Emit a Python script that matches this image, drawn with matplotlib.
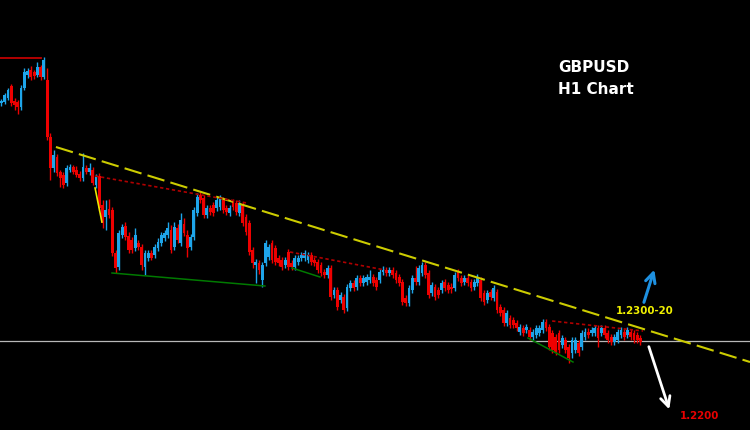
import matplotlib
matplotlib.use('Agg')
import matplotlib.pyplot as plt
import numpy as np

# GBPUSD H1 candles, pips above 1.2200 (price = 1.2200 + pips / 10000)
open_pips = [
    297, 298, 302, 314, 299, 298, 293, 312, 325, 330,
    328, 325, 333, 323, 320, 263, 232, 243, 228, 225,
    217, 230, 233, 230, 226, 222, 232, 228, 230, 215,
    224, 195, 183, 191, 190, 147, 133, 165, 174, 164,
    160, 152, 157, 153, 133, 142, 147, 145, 152, 157,
    162, 165, 170, 153, 172, 157, 176, 165, 153, 163,
    187, 205, 202, 185, 192, 195, 192, 193,
    200, 192, 187, 198, 197, 187, 195, 183, 177,
    150, 135, 137, 120, 137, 143, 157, 152, 142, 140,
    135, 148, 137, 133, 138, 142, 142, 140, 145, 140,
    138, 135, 128, 125, 132, 105, 110, 100, 103, 92,
    112, 117, 113, 122, 117, 118, 120, 123, 120, 120,
    128, 130, 127, 130, 127, 123, 118, 102, 97, 110,
    122, 118, 127, 135, 127, 107, 113, 110, 110, 118,
    115, 113, 112, 128, 122, 118, 122, 118, 113, 117,
    120, 107, 100, 108, 102, 108, 93, 90,
    77, 82, 80, 77, 68, 72, 70, 70,
    63, 65, 67, 70, 78, 73, 67, 63,
    67, 55, 60, 53, 47, 50, 57, 53, 63,
    68, 67, 67, 72, 67, 72, 67,
    63, 58, 60, 65, 68, 65, 68, 67, 65, 62,
]
close_pips = [
    299, 305, 310, 297, 295, 293, 312, 328, 329, 323,
    324, 333, 323, 340, 263, 232, 245, 227, 222, 215,
    232, 233, 228, 225, 222, 233, 228, 232, 217, 223,
    192, 177, 190, 185, 147, 132, 167, 173, 163, 150,
    150, 165, 153, 135, 147, 147, 142, 153, 158, 165,
    167, 172, 150, 173, 160, 180, 167, 152, 163, 190,
    203, 200, 185, 192, 188, 187, 200, 202,
    190, 188, 192, 193, 188, 197, 177, 168, 148,
    137, 138, 130, 135, 157, 153, 140, 138, 137, 133,
    140, 133, 133, 142, 142, 145, 147, 145, 138, 137,
    130, 127, 125, 132, 103, 110, 93, 105, 90, 113,
    117, 112, 122, 117, 122, 123, 123, 117, 113, 128,
    130, 127, 130, 125, 120, 117, 98, 97, 112, 122,
    118, 132, 135, 125, 105, 115, 103, 105, 117, 112,
    110, 111, 125, 122, 117, 122, 117, 112, 118, 123,
    102, 98, 107, 103, 112, 90, 87, 77,
    87, 75, 75, 72, 73, 67, 73, 63,
    68, 72, 72, 78, 72, 53, 50, 48,
    50, 62, 50, 42, 60, 60, 47, 67, 68,
    65, 70, 72, 62, 72, 65, 60,
    58, 63, 68, 70, 63, 70, 63, 60, 60, 58,
]
high_pips = [
    301, 307, 312, 316, 302, 300, 315, 332, 332, 334,
    330, 338, 335, 343, 332, 267, 250, 246, 230, 228,
    235, 236, 235, 234, 229, 247, 235, 237, 233, 226,
    227, 200, 200, 201, 193, 150, 170, 176, 178, 168,
    163, 172, 160, 156, 150, 150, 150, 156, 162, 168,
    170, 178, 175, 178, 176, 187, 182, 170, 166, 193,
    207, 208, 205, 195, 195, 198, 203, 205,
    203, 195, 195, 201, 200, 200, 198, 186, 180,
    153, 141, 140, 138, 160, 156, 160, 155, 145, 143,
    143, 151, 140, 145, 145, 148, 150, 148, 148, 143,
    141, 138, 131, 135, 135, 113, 113, 108, 106, 116,
    120, 120, 125, 125, 125, 126, 130, 126, 123, 131,
    134, 133, 133, 133, 130, 126, 121, 105, 115, 125,
    134, 135, 138, 138, 130, 118, 116, 113, 120, 121,
    118, 117, 128, 131, 125, 125, 125, 121, 121, 126,
    123, 110, 110, 111, 115, 111, 96, 93,
    90, 85, 83, 80, 76, 75, 76, 73,
    71, 75, 75, 81, 81, 76, 70, 66,
    70, 65, 63, 56, 63, 63, 60, 70, 72,
    72, 73, 75, 75, 75, 75, 70,
    66, 66, 71, 73, 71, 73, 71, 70, 68, 65,
]
low_pips = [
    294, 296, 300, 294, 290, 286, 290, 310, 322, 320,
    321, 323, 320, 321, 260, 220, 228, 224, 213, 212,
    214, 228, 226, 223, 219, 219, 226, 225, 215, 212,
    189, 172, 170, 182, 144, 127, 130, 162, 160, 147,
    147, 149, 150, 130, 125, 139, 140, 142, 149, 154,
    159, 162, 147, 150, 157, 154, 164, 143, 150, 160,
    184, 197, 182, 182, 185, 184, 189, 190,
    187, 185, 184, 190, 185, 184, 174, 165, 145,
    132, 117, 126, 113, 134, 140, 137, 135, 134, 130,
    132, 130, 130, 130, 135, 139, 139, 137, 135, 134,
    127, 124, 122, 122, 100, 102, 90, 97, 87, 89,
    109, 109, 110, 114, 114, 115, 117, 114, 110, 117,
    125, 124, 124, 122, 117, 114, 95, 94, 94, 107,
    115, 115, 124, 122, 102, 104, 100, 102, 107, 109,
    107, 107, 109, 119, 114, 115, 114, 109, 110, 114,
    99, 95, 97, 100, 99, 87, 84, 74,
    74, 72, 72, 69, 65, 64, 67, 60,
    60, 62, 64, 67, 69, 50, 47, 45,
    47, 52, 47, 37, 42, 47, 44, 50, 60,
    62, 64, 64, 53, 64, 62, 57,
    55, 55, 57, 62, 60, 62, 60, 57, 57, 55,
]

BASE, PIP = 1.2200, 0.0001

# drawn objects: (bar index, pips) anchors
top_level = ([-1, 12], [342, 342])
trend_yellow = ([16.7, 229.6], [253, 38])
red_dotted = [([28.7, 75.3], [224, 197]),
              ([88.5, 117.6], [148, 130]),
              ([168.9, 196.8], [79, 69])]
green_lines = [([33.9, 80.8], [127, 114]),
               ([89.1, 97.7], [132, 123]),
               ([161.5, 175.3], [62, 38])]
yellow_leg = ([28.7, 30.8], [212, 178])
hline_pips = 59
arrow_up = ((196.8, 95), (200.5, 133))
arrow_down = ((198.3, 56), (205.1, -12))
label_up = (188.5, 89, '1.2300-20')
label_down = (208.1, -16, '1.2200')

BULL = '#1ea5ea'
BEAR = '#ee0000'

o = BASE + np.array(open_pips) * PIP
c = BASE + np.array(close_pips) * PIP
h = BASE + np.array(high_pips) * PIP
l = BASE + np.array(low_pips) * PIP
x = np.arange(len(o))
colors = np.where(c >= o, BULL, BEAR)


def p(vals):
    return BASE + np.asarray(vals) * PIP


fig = plt.figure(figsize=(7.5, 4.3), dpi=100, facecolor='black')
ax = fig.add_axes([0, 0, 1, 1])
ax.set_facecolor('black')

ax.vlines(x, l, h, colors=colors, linewidth=1.0, zorder=3)
ax.bar(x, np.maximum(np.abs(c - o), 0.8 * PIP), bottom=np.minimum(o, c),
       width=0.86, color=colors, linewidth=0, zorder=4)

ax.axhline(p(hline_pips), color='#b8b8b8', linewidth=0.9, zorder=2)
ax.plot(top_level[0], p(top_level[1]), color='#c00000', linewidth=1.3, zorder=5)
ax.plot(trend_yellow[0], p(trend_yellow[1]), color='#cccc00', linewidth=1.5,
        dashes=(8.5, 3), zorder=5)
for xs, ys in red_dotted:
    ax.plot(xs, p(ys), color='#b00000', linewidth=1.2, dashes=(2, 1.6), zorder=5)
for xs, ys in green_lines:
    ax.plot(xs, p(ys), color='#007a00', linewidth=1.1, zorder=5)
ax.plot(yellow_leg[0], p(yellow_leg[1]), color='#e8e800', linewidth=1.2, zorder=6)

ax.annotate('', xy=(arrow_up[1][0], p(arrow_up[1][1])),
            xytext=(arrow_up[0][0], p(arrow_up[0][1])),
            arrowprops=dict(arrowstyle='->,head_length=0.7,head_width=0.35',
                            color='#1e90e0', linewidth=2.2), zorder=7)
ax.annotate('', xy=(arrow_down[1][0], p(arrow_down[1][1])),
            xytext=(arrow_down[0][0], p(arrow_down[0][1])),
            arrowprops=dict(arrowstyle='->,head_length=0.7,head_width=0.35',
                            color='white', linewidth=2.0), zorder=7)

ax.text(label_up[0], p(label_up[1]), label_up[2], color='#f0f000',
        fontsize=7.4, fontweight='bold', va='center', ha='left', zorder=8)
ax.text(label_down[0], p(label_down[1]), label_down[2], color='#e80000',
        fontsize=7.4, fontweight='bold', va='center', ha='left', zorder=8)
ax.text(558 / 750, 1 - 68 / 430, 'GBPUSD', transform=ax.transAxes, color='white',
        fontsize=11, fontweight='bold', va='center', ha='left')
ax.text(558 / 750, 1 - 90 / 430, 'H1 Chart', transform=ax.transAxes, color='white',
        fontsize=11, fontweight='bold', va='center', ha='left')

ax.set_xlim(-0.46, 229.6)
ax.set_ylim(p(-30), p(400))
ax.axis('off')

fig.savefig('out.png', dpi=100, facecolor='black')
